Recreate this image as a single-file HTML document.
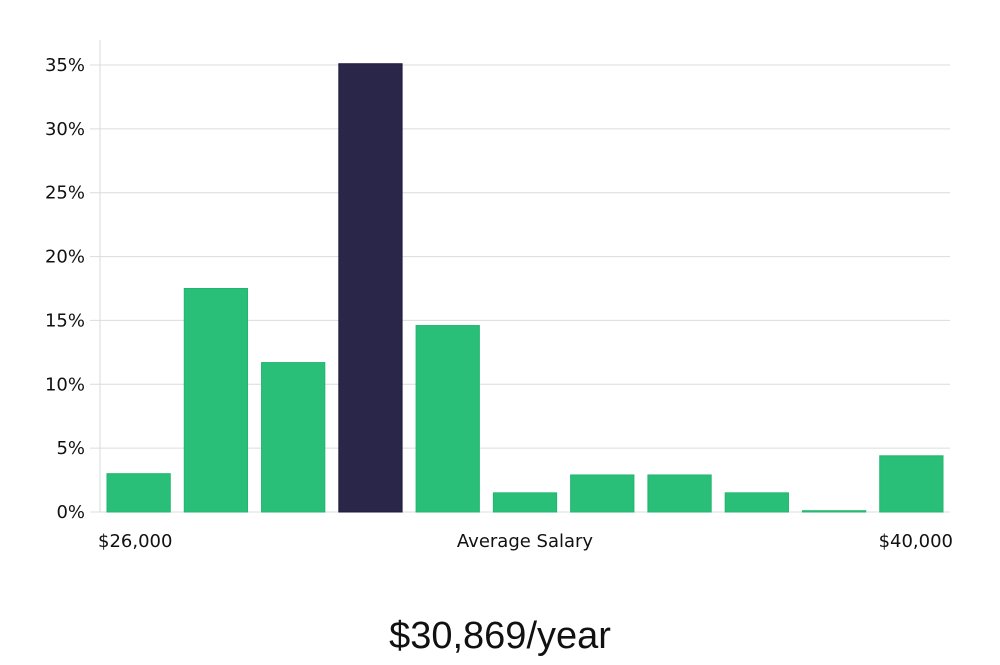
<!DOCTYPE html>
<html><head><meta charset="utf-8"><style>
body{margin:0;background:#fff;}
svg text{font-family:"DejaVu Sans","Liberation Sans",sans-serif;}
</style></head><body>
<svg id="chart" width="1000" height="660" xmlns="http://www.w3.org/2000/svg">
<g id="grid"></g><g id="bars"></g><g id="labels"></g>
<text x="98" y="547" font-size="18" fill="#111">$26,000</text>
<text x="525" y="547" font-size="18" fill="#111" text-anchor="middle">Average Salary</text>
<text x="953" y="547" font-size="18" fill="#111" text-anchor="end">$40,000</text>
<text x="500" y="648" font-size="38" fill="#111" text-anchor="middle" style="font-family:'Liberation Sans',sans-serif;font-weight:300">$30,869/year</text>
</svg>
<script>
const categories=["b1","b2","b3","b4","b5","b6","b7","b8","b9","b10","b11"];
const values=[3.0,17.5,11.7,35.1,14.6,1.5,2.9,2.9,1.5,0.1,4.4];
const highlight=[false,false,false,true,false,false,false,false,false,false,false];
const yTicks=[0,5,10,15,20,25,30,35];
const yTickLabels=["0%","5%","10%","15%","20%","25%","30%","35%"];
const NS="http://www.w3.org/2000/svg";
const x0=100,x1=950,y0=512,y35=65;
const y=v=>y0-(v/35)*(y0-y35);
const slot=(x1-x0)/categories.length;
const xs=i=>x0+i*slot;
const grid=document.getElementById('grid'),bars=document.getElementById('bars'),labels=document.getElementById('labels');
function mk(t,a){const e=document.createElementNS(NS,t);for(const k in a)e.setAttribute(k,a[k]);return e;}
const ax=mk('line',{x1:x0,x2:x0,y1:40,y2:y0,stroke:'#d8d8d8','stroke-width':1});


grid.appendChild(ax);
yTicks.forEach((t,i)=>{
  const l=mk('line',{x1:90,x2:x1,y1:y(t),y2:y(t),stroke:'#dcdcdc','stroke-width':1});
  
  
  grid.appendChild(l);
  const tx=mk('text',{x:85,y:y(t)+6,'font-size':18,fill:'#111','text-anchor':'end'});
  tx.textContent=yTickLabels[i];
  
  
  labels.appendChild(tx);
});
values.forEach((v,i)=>{
  const top=y(v);
  const r=mk('rect',{x:xs(i)+7,y:top,width:slot-14,height:Math.max(y0-top,1),fill:highlight[i]?'#29264a':'#2abf78',stroke:highlight[i]?'#1e1b3d':'#22b56e','stroke-width':1});
  
  
  bars.appendChild(r);
});
</script>
</body></html>
